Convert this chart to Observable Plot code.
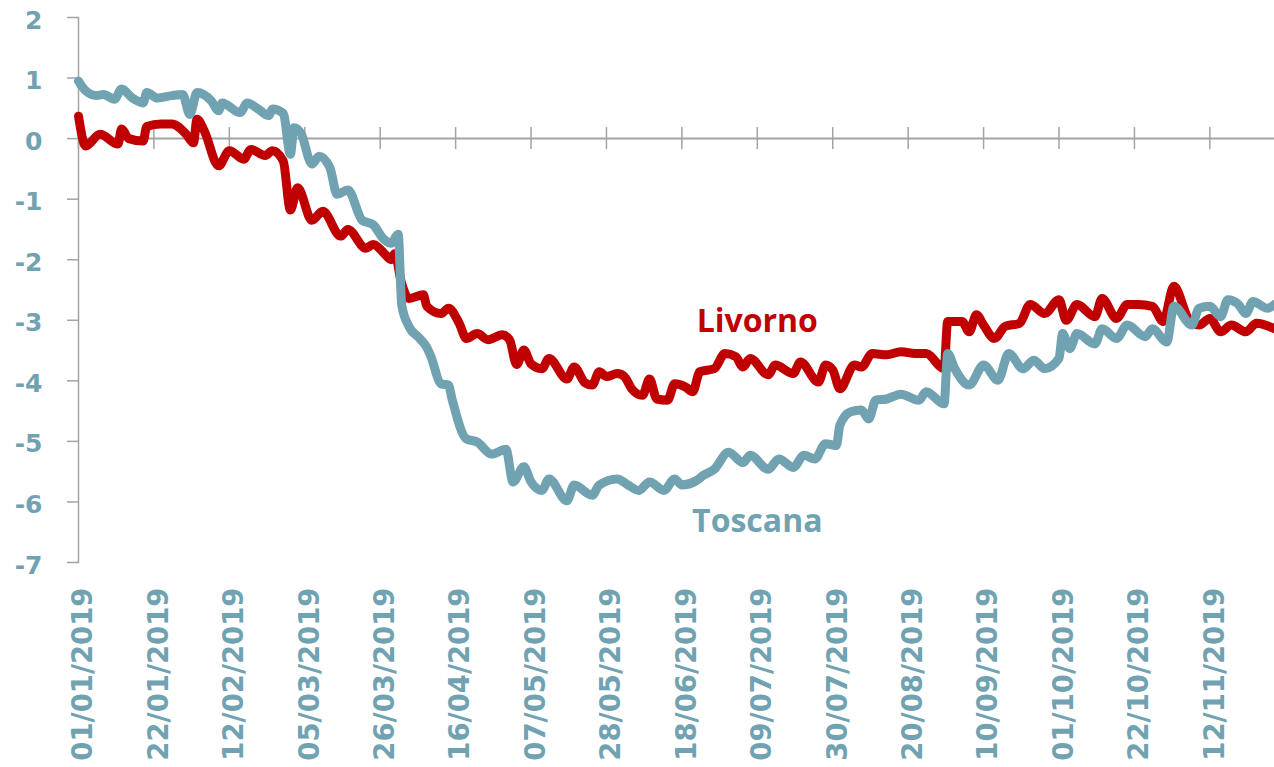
<!DOCTYPE html>
<html>
<head>
<meta charset="utf-8">
<script src="https://cdn.jsdelivr.net/npm/d3@7"></script>
<script src="https://cdn.jsdelivr.net/npm/@observablehq/plot@0.6"></script>
<style>
  html, body { margin: 0; padding: 0; background: #ffffff; }
  #chart svg { display: block; }
</style>
</head>
<body>
<div id="chart"></div>
<script>
// ---- Data ----
const startDate = "2019-01-01";
const endDay = 333;            // last day shown on the x axis (offset from startDate)
const tickStepDays = 21;       // one label every 21 days
const yTicks = [2, 1, 0, -1, -2, -3, -4, -5, -6, -7];

// Livorno: day offset from 01/01/2019 and value
const livornoDay = [0,2,6,11,12,14,18,19,23,26,30,32,33,35,39,42,46,48,52,54,57,59,61,65,68,73,75,80,82,86,87,88,90,92,96,97,101,103,106,108,111,114,118,120,122,124,126,129,131,136,138,141,143,145,147,150,152,154,157,159,161,164,166,169,171,173,177,180,183,185,187,192,194,199,201,206,208,210,212,216,218,221,225,229,233,236,241,242,246,248,250,252,255,258,262,265,269,273,275,278,283,285,289,292,295,299,302,305,309,312,315,318,321,325,328,333];
const livornoValue = [0.37,-0.12,0.07,-0.09,0.16,0.0,-0.04,0.2,0.24,0.24,0.07,-0.07,0.32,0.13,-0.45,-0.2,-0.34,-0.18,-0.28,-0.2,-0.37,-1.18,-0.81,-1.35,-1.2,-1.61,-1.5,-1.81,-1.75,-1.95,-2.0,-1.9,-2.4,-2.64,-2.58,-2.77,-2.89,-2.8,-3.05,-3.3,-3.22,-3.32,-3.24,-3.32,-3.73,-3.49,-3.72,-3.8,-3.63,-3.97,-3.77,-4.03,-4.07,-3.85,-3.93,-3.88,-3.93,-4.13,-4.24,-3.97,-4.3,-4.32,-4.05,-4.1,-4.18,-3.85,-3.8,-3.55,-3.6,-3.77,-3.63,-3.9,-3.74,-3.88,-3.69,-4.02,-3.74,-3.82,-4.13,-3.74,-3.77,-3.55,-3.57,-3.52,-3.55,-3.55,-3.8,-3.02,-3.02,-3.19,-2.91,-3.08,-3.3,-3.1,-3.05,-2.74,-2.89,-2.66,-3.0,-2.74,-2.94,-2.64,-2.97,-2.74,-2.74,-2.77,-3.02,-2.44,-2.97,-3.08,-2.97,-3.19,-3.08,-3.19,-3.05,-3.14];

// Toscana: day offset from 01/01/2019 and value
const toscanaDay = [0,2,5,7,10,12,15,18,19,22,26,29,31,33,37,39,40,45,47,50,53,54,57,59,60,62,65,67,70,72,75,79,82,85,87,89,90,92,95,97,98,101,103,104,108,111,115,119,121,124,126,129,131,136,138,143,145,150,153,156,159,163,166,168,172,174,177,181,185,187,192,195,199,202,205,208,211,212,215,218,220,222,225,229,234,236,241,242,244,248,252,256,259,263,266,269,273,274,276,278,283,285,289,292,297,299,303,305,310,312,315,318,320,323,325,327,331,333];
const toscanaValue = [0.95,0.79,0.71,0.73,0.65,0.82,0.67,0.59,0.76,0.67,0.71,0.73,0.4,0.76,0.62,0.46,0.59,0.43,0.59,0.49,0.38,0.49,0.42,-0.26,0.18,0.08,-0.42,-0.29,-0.48,-0.92,-0.85,-1.35,-1.42,-1.66,-1.73,-1.58,-2.75,-3.1,-3.3,-3.45,-3.58,-4.05,-4.07,-4.3,-4.96,-5.01,-5.21,-5.13,-5.67,-5.42,-5.67,-5.81,-5.62,-5.98,-5.72,-5.89,-5.72,-5.62,-5.72,-5.81,-5.67,-5.81,-5.62,-5.72,-5.65,-5.56,-5.46,-5.18,-5.35,-5.23,-5.46,-5.29,-5.43,-5.23,-5.29,-5.04,-5.07,-4.73,-4.51,-4.48,-4.63,-4.32,-4.3,-4.22,-4.32,-4.18,-4.38,-3.55,-3.8,-4.07,-3.74,-3.99,-3.55,-3.8,-3.66,-3.8,-3.63,-3.22,-3.47,-3.22,-3.39,-3.14,-3.3,-3.08,-3.27,-3.14,-3.36,-2.77,-3.08,-2.8,-2.77,-2.94,-2.66,-2.74,-2.89,-2.69,-2.8,-2.74];

// Series labels (position in data space)
const seriesNames = ["Livorno", "Toscana"];
const labelDay = [189, 189];
const labelValue = [-3.02, -6.32];

// ---- Build tables ----
const t0 = d3.utcParse("%Y-%m-%d")(startDate);
const toDate = d => d3.utcDay.offset(t0, d);
const livorno = livornoDay.map((d, i) => ({date: toDate(d), value: livornoValue[i]}));
const toscana = toscanaDay.map((d, i) => ({date: toDate(d), value: toscanaValue[i]}));
const tickDates = d3.range(0, endDay, tickStepDays).map(toDate);
const labels = seriesNames.map((n, i) => ({name: n, date: toDate(labelDay[i]), value: labelValue[i]}));

const RED = "#c00000";
const TEAL = "#70a2b2";
const GRAY = "#a3a3a3";
const fmt = d3.utcFormat("%d/%m/%Y");

const chart = Plot.plot({
  width: 1274,
  height: 767,
  marginLeft: 78,
  marginRight: 0,
  marginTop: 17,
  marginBottom: 205,
  style: {fontFamily: "'DejaVu Sans', sans-serif", background: "#ffffff"},
  x: {type: "utc", domain: [t0, toDate(endDay)], label: null},
  y: {domain: [-7, 2], label: null},
  marks: [
    // y axis line
    Plot.frame({anchor: "left", stroke: GRAY, strokeWidth: 1.5}),
    // y ticks
    Plot.axisY(yTicks, {anchor: "left", tickSize: 11, stroke: GRAY, strokeWidth: 1.5, tickFormat: () => "", label: null}),
    // y labels
    Plot.axisY(yTicks, {anchor: "left", tickSize: 0, tickPadding: 36, fill: TEAL, fontSize: 25, fontWeight: "bold", dy: 3, tickFormat: d => String(d), label: null}),
    // horizontal axis line at zero
    Plot.ruleY([0], {stroke: GRAY, strokeWidth: 2}),
    // tick marks crossing the zero line
    Plot.ruleX(tickDates, {x: d => d, y1: 0, y2: 0, insetTop: -11, insetBottom: -11, stroke: GRAY, strokeWidth: 1.5}),
    // rotated date labels at the bottom
    Plot.axisX(tickDates, {anchor: "bottom", tickSize: 0, tickPadding: 25, tickRotate: -90, tickFormat: fmt, fill: TEAL, fontSize: 27.5, fontWeight: "bold", dx: 5, label: null}),
    // series
    Plot.line(livorno, {x: "date", y: "value", stroke: RED, strokeWidth: 9, curve: "monotone-x", strokeLinejoin: "round", strokeLinecap: "round"}),
    Plot.line(toscana, {x: "date", y: "value", stroke: TEAL, strokeWidth: 9, curve: "monotone-x", strokeLinejoin: "round", strokeLinecap: "round"}),
    // series labels
    Plot.text(labels, {x: "date", y: "value", text: "name", fill: (d) => d.name === "Livorno" ? RED : TEAL, fontSize: 32, fontWeight: "bold", fontFamily: "'Open Sans', sans-serif", textAnchor: "middle"})
  ]
});

document.getElementById("chart").appendChild(chart);
</script>
</body>
</html>
